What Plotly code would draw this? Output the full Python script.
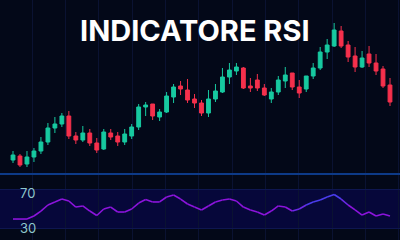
import plotly.graph_objects as go

# ---- data ----
opens  = [20, 24, 16, 23, 29, 38, 52, 56, 64, 44, 40, 47, 37, 31, 47, 44, 38, 44, 53, 73,
          76, 63, 68, 83, 94, 90, 81, 77, 67, 81, 88, 103, 109, 112, 94, 100, 92, 81, 88, 99,
          107, 93, 91, 104, 112, 128, 134, 149, 135, 124, 113, 126, 117, 111, 95]
highs  = [29, 26, 29, 32, 43, 57, 63, 67, 69, 48, 54, 51, 42, 51, 51, 48, 51, 56, 76, 78,
          76, 71, 88, 96, 99, 101, 86, 80, 90, 96, 112, 117, 117, 113, 102, 106, 96, 92, 104, 113,
          107, 100, 104, 117, 133, 141, 157, 154, 139, 133, 129, 134, 126, 114, 102]
lows   = [17, 13, 13, 18, 26, 35, 47, 53, 41, 36, 38, 34, 27, 30, 40, 34, 35, 41, 50, 64,
          60, 59, 67, 77, 85, 77, 72, 64, 63, 78, 87, 96, 105, 91, 88, 89, 84, 77, 85, 92,
          90, 82, 88, 101, 110, 121, 133, 132, 118, 108, 112, 113, 105, 92, 74]
closes = [25, 15, 23, 29, 38, 52, 56, 64, 44, 40, 47, 37, 30, 48, 43, 38, 46, 53, 73, 75,
          64, 68, 84, 93, 91, 80, 77, 67, 81, 89, 103, 110, 113, 92, 92, 92, 85, 88, 100, 105,
          93, 87, 104, 112, 128, 135, 150, 134, 123, 113, 122, 117, 109, 94, 78]
rsi = [39.2, 39.2, 39.2, 42.3, 47.4, 53.6, 56.7, 59.7, 57.7, 51.5, 52.6, 47.4, 42.8, 49.5, 51.5,
       46.4, 46.4, 49.5, 55.6, 59.2, 56.7, 56.7, 61.8, 63.8, 59.7, 54.6, 51.5, 48.5, 52.6, 56.7,
       58.7, 59.7, 57.7, 51.5, 48.5, 46.4, 43.3, 47.4, 52.6, 51.5, 47.4, 49.5, 53.6, 56.7, 58.7,
       61.8, 64.4, 59.7, 53.6, 48.5, 43.3, 46.4, 42.3, 44.3, 42.3]
rsi_levels = [30, 70]
rsi_labels = ["30", "70"]
title_text = "INDICATORE RSI"

idx = list(range(len(opens)))

fig = go.Figure()
fig.add_trace(go.Candlestick(
    x=idx, open=opens, high=highs, low=lows, close=closes,
    increasing=dict(line=dict(color="#17c9a0", width=1), fillcolor="#17c9a0"),
    decreasing=dict(line=dict(color="#f5304c", width=1), fillcolor="#f5304c"),
    whiskerwidth=0, showlegend=False, xaxis="x", yaxis="y", hoverinfo="skip"))

# RSI line, coloured per segment (purple with a blue stretch)
def seg_color(i):
    if 42 <= i <= 46:
        return "#4a3cec"
    if i in (40, 41, 47):
        return "#6a2ae6"
    return "#8c14dc"

for i in range(len(rsi) - 1):
    fig.add_trace(go.Scatter(
        x=idx[i:i + 2], y=rsi[i:i + 2], mode="lines",
        line=dict(color=seg_color(i), width=1.6),
        showlegend=False, hoverinfo="skip", xaxis="x2", yaxis="y2"))

n = len(idx)
xr = [-13 / 6.98, (n - 1) + 10 / 6.98]
grid_common = dict(showgrid=True, gridcolor="#0a1232", gridwidth=1,
                   tick0=2.76, dtick=4.775, showticklabels=False, zeroline=False,
                   showline=False, ticks="", range=xr, fixedrange=True)

label_shift = {"70": -4, "30": 0}
annotations = [dict(text="<b>" + title_text + "</b>", xref="paper", yref="paper",
                    x=195 / 400, y=1 - 31 / 240, showarrow=False,
                    xanchor="center", yanchor="middle",
                    font=dict(family="Inter", size=29, color="#ffffff"))]
for lv, lb in zip(rsi_levels, rsi_labels):
    annotations.append(dict(text=lb, xref="paper", yref="y2", x=18 / 400, y=lv,
                            xanchor="left", yanchor="middle", showarrow=False,
                            yshift=label_shift[lb],
                            font=dict(family="Inter", size=13, color="#8ec6cc")))

fig.update_layout(
    width=400, height=240,
    margin=dict(l=0, r=0, t=0, b=0),
    paper_bgcolor="#030818", plot_bgcolor="#030818",
    boxgap=0.22,
    xaxis=dict(**grid_common, anchor="y", rangeslider=dict(visible=False)),
    xaxis2=dict(**grid_common, anchor="y2"),
    yaxis=dict(domain=[66 / 240, 1], range=[6, 180], showgrid=False, zeroline=False,
               showticklabels=False, fixedrange=True),
    yaxis2=dict(domain=[0, 65 / 240], range=[17.69, 84.36], zeroline=False,
                tickvals=rsi_levels, showticklabels=False, showgrid=True,
                gridcolor="#0e1650", gridwidth=1, fixedrange=True),
    shapes=[
        dict(type="rect", xref="paper", yref="y2", x0=0, x1=1,
             y0=rsi_levels[0], y1=rsi_levels[1],
             fillcolor="#06073a", line=dict(width=0), layer="below"),
        dict(type="line", xref="paper", yref="paper", x0=0, x1=1,
             y0=66 / 240, y1=66 / 240, line=dict(color="#0d3a88", width=2)),
    ],
    annotations=annotations,
)

fig.write_html("out.html")
